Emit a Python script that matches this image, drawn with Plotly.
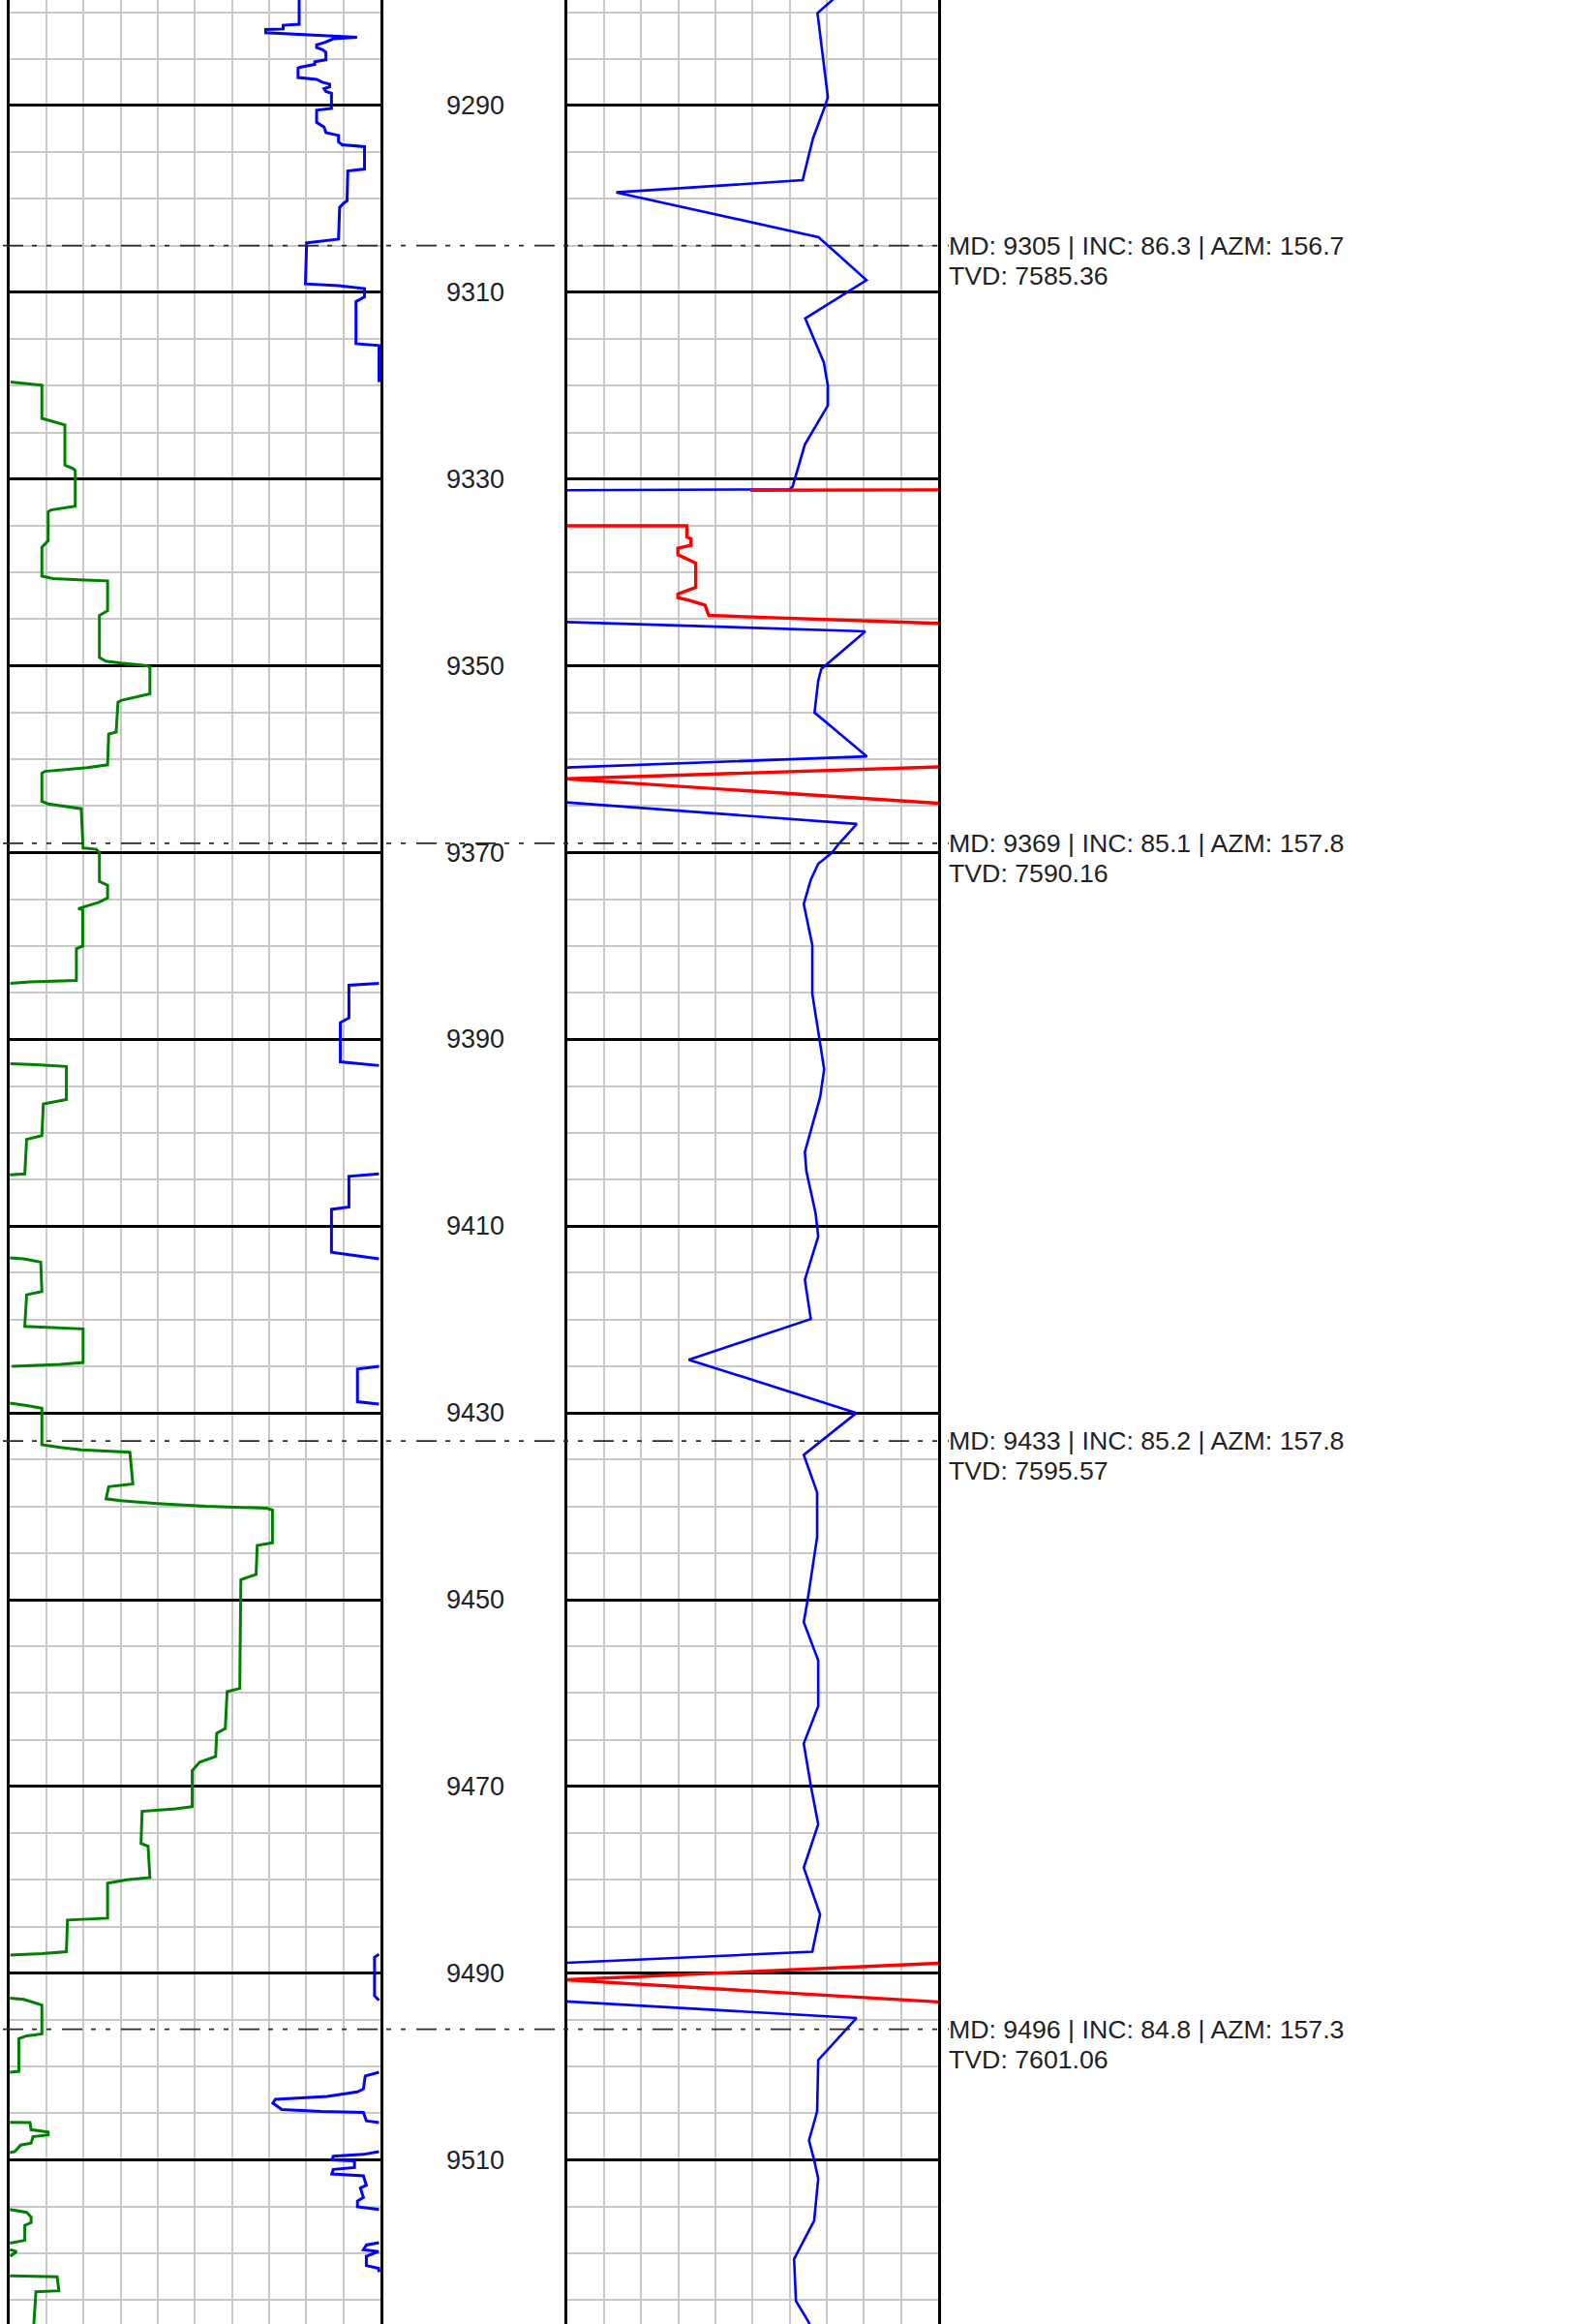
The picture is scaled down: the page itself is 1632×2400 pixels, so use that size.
import plotly.graph_objects as go

# The page body margin is removed (see post_script), so the figure fills the window.
BODY = 0
PAGE_W, PAGE_H = 1632, 2400
W, H = PAGE_W - BODY, PAGE_H - BODY
PX_PER_FT = 9.644
DEPTH_AT_PAGE_TOP = 9278.70
DEPTH_TOP = DEPTH_AT_PAGE_TOP + BODY / PX_PER_FT
DEPTH_BOTTOM = DEPTH_TOP + H / PX_PER_FT

# ---------------- data (depth in ft, value in % of track width) ----------------
# Left track, blue curve (segments separated by None where the curve leaves the scale)
left_blue_depth = [
    9278.0, 9281.3, 9281.4, 9281.8, 9281.85, 9282.2, 9282.7, 9282.85,
    9283.2, 9283.5, 9283.8, 9284.0, 9284.3, 9285.1, 9285.3, 9285.6, 9285.9, 9286.0,
    9287.0, 9287.2, 9287.5, 9287.7, 9288.0, 9288.2, 9288.5, 9288.7, 9290.3, 9290.5,
    9291.8, 9292.3, 9292.9, 9293.2, 9293.9, 9294.2, 9294.4, 9296.8, 9297.0, 9300.2,
    9300.5, 9300.9, 9304.3, 9304.5, 9304.7, 9309.1, 9309.3, 9309.6, 9310.5, 9311.0,
    9315.5, 9315.7, 9319.6, None,
    9384.0, 9384.2, 9387.7, 9388.2, 9392.4, 9392.6, 9392.8, None,
    9404.4, 9404.66, 9407.95, 9408.2, 9412.8, 9413.15, 9413.5, None,
    9425.0, 9425.3, 9428.8, 9429.06, None,
    9487.96, 9488.3, 9492.4, 9492.9, None,
    9500.6, 9501.0, 9502.4, 9502.7, 9503.2, 9503.5, 9503.9, 9504.6, 9504.8, 9504.9, 9505.8, 9506.0, None,
    9509.1, 9509.4, 9509.6, 9510.0, 9510.1, 9510.8, 9511.0, 9511.5, 9511.7, 9512.7, 9513.0, 9514.0, 9514.4, 9515.0, 9515.3, None,
    9518.85, 9519.1, 9519.6, 9519.8, 9520.3, 9521.3, 9521.6, 9522.0,
]
left_blue_value = [
    78.1, 78.1, 73.8, 73.8, 69.1, 69.1, 93.7, 87.3,
    85.3, 82.8, 82.8, 84.3, 85.3, 85.3, 82.3, 82.3, 78.3, 77.8,
    77.8, 82.8, 84.3, 86.3, 86.3, 84.8, 85.3, 86.8, 86.8, 82.8,
    82.8, 84.8, 85.3, 88.7, 88.7, 89.7, 95.7, 95.7, 91.2, 91.0,
    90.0, 89.0, 88.7, 84.3, 80.1, 79.8, 88.7, 95.7, 95.7, 93.4,
    93.4, 99.6, 99.6, None,
    99.6, 91.5, 91.5, 89.2, 89.2, 94.6, 99.6, None,
    99.6, 91.5, 91.5, 86.8, 86.8, 93.8, 99.6, None,
    99.6, 93.8, 93.8, 99.6, None,
    99.6, 98.4, 98.4, 99.6, None,
    99.6, 95.9, 95.4, 93.8, 85.6, 71.7, 71.0, 73.4, 84.0, 95.4, 96.2, 99.6, None,
    99.6, 95.4, 87.3, 86.9, 93.0, 93.0, 87.3, 86.9, 95.4, 96.2, 94.6, 95.4, 93.8, 93.8, 99.6, None,
    99.6, 96.2, 95.4, 99.5, 96.2, 96.2, 99.5, 99.6,
]

# Left track, green curve
left_green_depth = [
    9319.6, 9319.8, 9319.95, 9323.5, 9323.7, 9324.2, 9328.5, 9328.9, 9329.1, 9332.9,
    9333.3, 9333.5, 9336.6, 9337.3, 9340.4, 9340.65, 9340.8, 9340.9, 9344.1, 9344.6,
    9349.1, 9349.5, 9349.7, 9349.95, 9350.1, 9353.0, 9353.7, 9353.9, 9357.1, 9357.3,
    9360.6, 9360.9, 9361.3, 9361.5, 9364.5, 9364.8, 9365.3, 9369.5, 9369.65, 9370.0,
    9373.1, 9373.5, 9374.85, 9375.3, 9376.0, 9376.1, 9380.0, 9380.3, 9383.7, 9383.85,
    9384.0, None,
    9392.6, 9392.7, 9392.9, 9396.45, 9396.9, 9400.3, 9400.7, 9404.4, 9404.5, None,
    9413.4, 9413.5, 9413.85, 9417.0, 9417.35, 9420.74, 9421.0, 9424.6, 9424.8, 9425.0, None,
    9428.96, 9429.2, 9429.5, 9433.4, 9433.7, 9433.95, 9434.2, 9437.6, 9437.9, 9439.2,
    9439.4, 9439.7, 9440.0, 9440.2, 9440.4, 9443.9, 9444.2, 9447.3, 9447.85, 9459.5,
    9459.85, 9463.8, 9464.3, 9466.8, 9467.4, 9468.3, 9472.15, 9472.4, 9472.66, 9476.1,
    9476.4, 9479.75, 9480.0, 9480.35, 9484.1, 9484.3, 9487.7, 9487.9, 9488.06, None,
    9492.66, 9492.8, 9493.4, 9496.5, 9496.7, 9497.0, 9500.5, 9500.6, None,
    9505.96, 9506.0, 9506.75, 9507.0, 9507.3, 9507.5, 9508.2, 9508.4, 9509.1, 9509.2, None,
    9515.3, 9515.6, 9516.1, 9516.7, 9517.0, 9518.6, 9518.9, None,
    9519.6, 9519.8, 9520.3, None,
    9522.4, 9522.5, 9524.0, 9524.1, 9529.0,
]
left_green_value = [
    0.4, 5.0, 8.8, 8.8, 10.5, 15.0, 15.0, 17.3, 17.8, 17.8,
    11.3, 10.5, 10.5, 8.8, 8.8, 11.8, 20.3, 26.5, 26.5, 24.3,
    24.3, 26.0, 30.1, 36.6, 37.9, 37.9, 30.1, 29.3, 28.8, 26.8,
    26.5, 21.1, 9.6, 8.8, 8.8, 10.5, 19.4, 19.9, 23.5, 24.3,
    24.3, 26.5, 26.5, 24.3, 18.6, 19.8, 19.8, 18.1, 18.1, 5.6,
    0.3, None,
    0.3, 7.2, 15.4, 15.4, 9.2, 8.8, 4.7, 4.2, 0.2, None,
    0.2, 3.9, 8.5, 8.8, 4.7, 4.2, 19.9, 19.9, 13.7, 0.7, None,
    0.2, 4.7, 8.8, 8.8, 13.7, 19.4, 32.5, 33.3, 26.8, 26.1,
    30.1, 39.9, 52.9, 69.3, 70.9, 70.9, 66.8, 66.5, 62.4, 62.1,
    58.7, 58.2, 55.9, 55.6, 51.3, 49.3, 49.3, 44.8, 35.8, 35.5,
    37.4, 37.9, 31.7, 26.5, 26.5, 15.7, 15.4, 8.8, 0.3, None,
    0.2, 3.9, 8.8, 8.8, 4.7, 2.6, 2.6, 0.2, None,
    0.2, 5.6, 5.9, 10.5, 10.5, 6.4, 5.9, 3.1, 1.5, 0.2, None,
    0.2, 4.7, 5.9, 5.9, 4.2, 4.2, 0.2, None,
    0.2, 2.0, 0.3, None,
    0.2, 12.9, 13.4, 7.2, 6.4,
]

# Right track, blue curve
right_blue_depth = [
    9278.0, 9280.1, 9289.1, 9290.1, 9293.5, 9298.0, 9299.3, 9304.1, 9308.7, 9312.8,
    9317.5, 9320.0, 9322.1, 9326.3, 9330.8, 9331.1, 9331.2, None,
    9345.3, 9346.3, 9350.35, 9351.6, 9355.0, 9359.7, 9360.9, None,
    9364.6, 9366.93, 9369.13, 9370.0, 9371.2, 9372.9, 9375.5, 9376.8, 9379.9, 9385.1,
    9388.2, 9393.2, 9396.2, 9402.06, 9404.1, 9408.65, 9411.1, 9415.75, 9419.95, 9424.3,
    9430.0, 9434.5, 9438.5, 9443.3, 9449.9, 9452.4, 9456.5, 9461.4, 9465.4, 9469.9,
    9474.05, 9478.7, 9483.7, 9487.7, 9488.9, None,
    9493.0, 9494.8, 9499.3, 9504.8, 9507.9, 9510.0, 9512.0, 9516.5, 9520.6, 9525.1,
    9527.2, 9529.0,
]
right_blue_value = [
    73.5, 67.5, 70.3, 69.5, 66.3, 63.5, 13.3, 67.8, 80.7, 64.2,
    69.2, 70.3, 70.3, 64.1, 60.8, 60.0, -1.0, None,
    -1.0, 80.4, 68.5, 67.7, 66.7, 80.8, -1.0, None,
    -1.0, 78.1, 73.1, 71.4, 67.7, 65.7, 63.8, 64.5, 66.1, 66.1,
    67.4, 69.3, 68.2, 64.1, 64.5, 67.0, 67.7, 64.1, 65.7, 32.8,
    78.0, 63.8, 67.4, 67.4, 64.9, 63.8, 67.7, 67.7, 63.8, 65.7,
    67.7, 63.8, 68.2, 66.1, -1.0, None,
    -1.0, 78.0, 67.7, 67.4, 65.2, 66.6, 67.7, 66.6, 61.2, 61.7,
    64.9, 67.0,
]

# Right track, red (wrapped) curve
right_red_depth = [
    9331.15, 9331.2, None,
    9335.0, 9335.0, 9336.2, 9336.4, 9337.1, 9337.4, 9338.1, 9339.0, 9341.6, 9342.3,
    9342.7, 9343.0, 9343.5, 9344.4, 9344.6, 9345.46, None,
    9360.82, 9362.1, 9364.73, None,
    9488.93, 9490.7, 9493.08,
]
right_red_value = [
    100.5, 49.4, None,
    -1.0, 32.3, 32.3, 33.4, 33.4, 29.9, 29.9, 34.7, 34.7, 29.9,
    29.9, 33.1, 37.2, 38.0, 38.2, 100.5, None,
    100.5, -0.5, 100.5, None,
    100.5, -0.5, 100.5,
]

# Survey stations (dashed markers + labels)
survey_md = [9305, 9369, 9433, 9496]
survey_inc = [86.3, 85.1, 85.2, 84.8]
survey_azm = [156.7, 157.8, 157.8, 157.3]
survey_tvd = [7585.36, 7590.16, 7595.57, 7601.06]

# Depth track labels
depth_labels = [9290, 9310, 9330, 9350, 9370, 9390, 9410, 9430, 9450, 9470, 9490, 9510]

for a, b in [(left_blue_depth, left_blue_value), (left_green_depth, left_green_value),
             (right_blue_depth, right_blue_value), (right_red_depth, right_red_value)]:
    assert len(a) == len(b), (len(a), len(b))


def px(page_x):
    """page pixel x -> paper fraction"""
    return (page_x - BODY) / W


# ---------------- layout geometry (page pixels) ----------------
LT = (px(9.5), px(393.0))      # left track
RT = (px(585.6), px(969.0))    # right track
DEPTH_X = px(490.5)
MARK_X0, MARK_X1 = px(3.0), px(980.0)
TEXT_X = px(978.0)

FONT = "Liberation Sans, Arial, sans-serif"
TXT = "#222222"

fig = go.Figure()

fig.add_trace(go.Scatter(x=left_green_value, y=left_green_depth, mode="lines",
                         line=dict(color="#008000", width=3), connectgaps=False,
                         xaxis="x", yaxis="y", showlegend=False, hoverinfo="skip"))
fig.add_trace(go.Scatter(x=left_blue_value, y=left_blue_depth, mode="lines",
                         line=dict(color="#0000FF", width=3), connectgaps=False,
                         xaxis="x", yaxis="y", showlegend=False, hoverinfo="skip"))
fig.add_trace(go.Scatter(x=right_blue_value, y=right_blue_depth, mode="lines",
                         line=dict(color="#0000FF", width=2.6), connectgaps=False,
                         xaxis="x2", yaxis="y2", showlegend=False, hoverinfo="skip"))
fig.add_trace(go.Scatter(x=right_red_value, y=right_red_depth, mode="lines",
                         line=dict(color="#FF0000", width=3.4), connectgaps=False,
                         xaxis="x2", yaxis="y2", showlegend=False, hoverinfo="skip"))

xcommon = dict(range=[0, 100], dtick=10, tick0=0, showgrid=True, gridcolor="#c8c8c8",
               gridwidth=2, showticklabels=False, ticks="", zeroline=False, showline=False,
               fixedrange=True)
ycommon = dict(range=[DEPTH_BOTTOM, DEPTH_TOP], domain=[0, 1], showline=True, mirror=True,
               linecolor="black", linewidth=3, tick0=9290, dtick=20, showgrid=True,
               gridcolor="black", gridwidth=3,
               minor=dict(dtick=5, tick0=9290, showgrid=True, gridcolor="#c8c8c8", gridwidth=2),
               showticklabels=False, ticks="", zeroline=False, layer="below traces",
               fixedrange=True)

fig.update_layout(
    width=W, height=H,
    margin=dict(l=0, r=0, t=0, b=0, pad=0),
    paper_bgcolor="white", plot_bgcolor="white",
    hovermode=False,
    xaxis=dict(domain=list(LT), anchor="y", **xcommon),
    xaxis2=dict(domain=list(RT), anchor="y2", **xcommon),
    yaxis=dict(anchor="x", **ycommon),
    yaxis2=dict(anchor="x2", matches="y", **ycommon),
)

shapes = []
annotations = []
for md, inc, azm, tvd in zip(survey_md, survey_inc, survey_azm, survey_tvd):
    shapes.append(dict(type="line", xref="paper", yref="y", x0=MARK_X0, x1=MARK_X1,
                       y0=md, y1=md, layer="above",
                       line=dict(color="#2a2a2a", width=1.8, dash="21px,9px,5px,10px,5px,11px")))
    annotations.append(dict(xref="paper", yref="y", x=TEXT_X, y=md, xanchor="left",
                            yanchor="middle", showarrow=False,
                            text=f"MD: {md} | INC: {inc} | AZM: {azm}",
                            font=dict(family=FONT, size=26.7, color=TXT)))
    annotations.append(dict(xref="paper", yref="y", x=TEXT_X, y=md, xanchor="left",
                            yanchor="middle", yshift=-31, showarrow=False,
                            text=f"TVD: {tvd:.2f}",
                            font=dict(family=FONT, size=26.7, color=TXT)))

for d in depth_labels:
    annotations.append(dict(xref="paper", yref="y", x=DEPTH_X, y=d, xanchor="center",
                            yanchor="middle", showarrow=False, text=str(d),
                            font=dict(family=FONT, size=27, color=TXT)))

fig.update_layout(shapes=shapes, annotations=annotations)

fig.write_html("out.html",
               config={"displayModeBar": False, "staticPlot": True},
               post_script="document.body.style.margin='0';document.body.style.padding='0';")
